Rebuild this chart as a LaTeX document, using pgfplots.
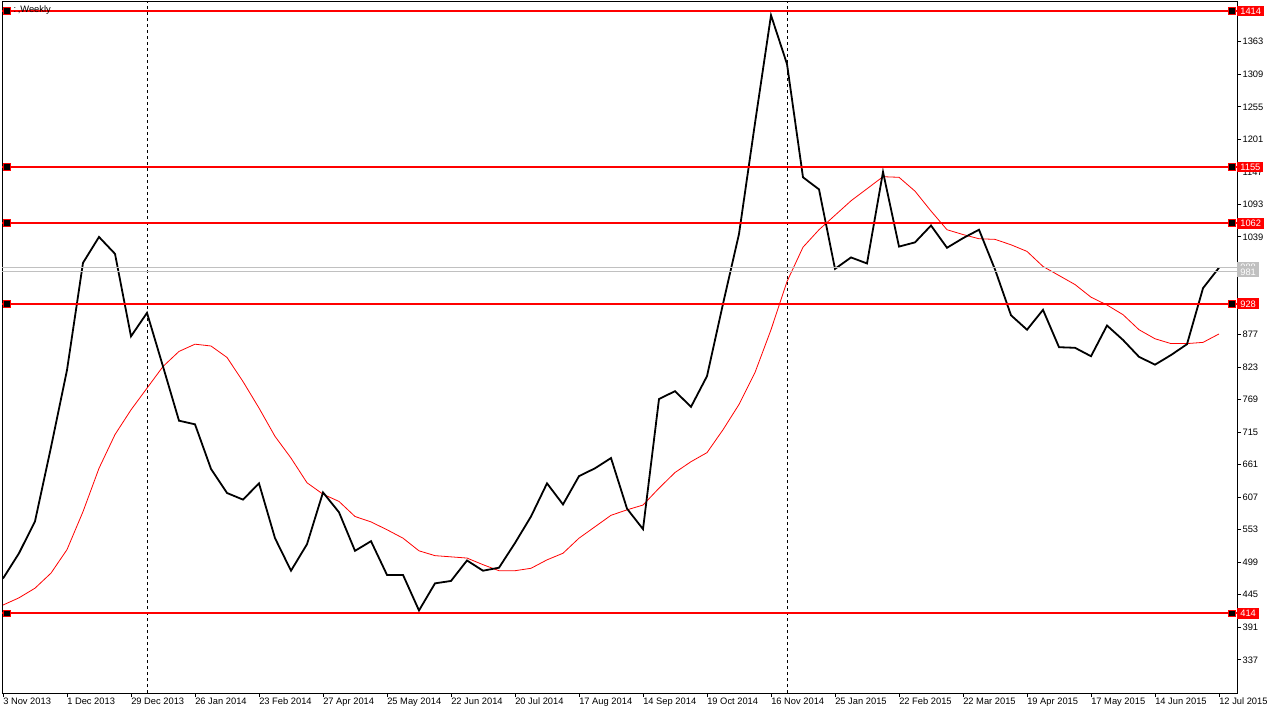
\documentclass[border=0pt]{standalone}
\usepackage{fontspec}
\setmainfont{Liberation Sans}
\usepackage{pgfplots}
\pgfplotsset{compat=1.18}
\definecolor{mtgray}{RGB}{192,192,192}

\begin{document}
\begin{tikzpicture}
% 1 px of the reference = 0.75pt
\useasboundingbox (-1.5pt,-15.75pt) rectangle (955.5pt,519.75pt);
\begin{axis}[
  at={(0,0)}, anchor=south west,
  scale only axis, width=926.25pt, height=518.25pt,
  xmin=-0.0625, xmax=77.125, ymin=282, ymax=1429,
  axis line style={black, line width=0.75pt},
  clip=false,
  tick align=outside, major tick length=3pt,
  tick style={black, line width=0.75pt},
  xtick pos=bottom, ytick pos=right, yticklabel pos=right,
  xtick={0,4,...,76},
  xticklabels={3 Nov 2013,1 Dec 2013,29 Dec 2013,26 Jan 2014,23 Feb 2014,27 Apr 2014,25 May 2014,22 Jun 2014,20 Jul 2014,17 Aug 2014,14 Sep 2014,19 Oct 2014,16 Nov 2014,25 Jan 2015,22 Feb 2015,22 Mar 2015,19 Apr 2015,17 May 2015,14 Jun 2015,12 Jul 2015},
  xticklabel style={anchor=north west, inner sep=0.6pt, xshift=-0.6pt, font=\fontsize{7}{8}\selectfont},
  ytick={337,391,...,1363},
  yticklabel style={anchor=west, inner sep=1pt, font=\fontsize{7}{8}\selectfont},
  /pgf/number format/.cd, 1000 sep={}, assume math mode=true,
]
% moving average
\addplot[red, line width=0.6pt] coordinates {
(0,428)(1,440)(2,456)(3,481)(4,520)(5,583)(6,655)(7,711)(8,752)(9,788)
(10,824)(11,849)(12,861)(13,858)(14,839)(15,799)(16,755)(17,708)(18,672)(19,631)
(20,612)(21,600)(22,575)(23,566)(24,553)(25,539)(26,518)(27,510)(28,508)(29,506)
(30,495)(31,485)(32,485)(33,489)(34,503)(35,514)(36,539)(37,558)(38,577)(39,586)
(40,594)(41,622)(42,648)(43,666)(44,681)(45,719)(46,761)(47,814)(48,885)(49,965)
(50,1022)(51,1051)(52,1075)(53,1099)(54,1119)(55,1139)(56,1138)(57,1115)(58,1082)(59,1051)
(60,1043)(61,1036)(62,1035)(63,1026)(64,1015)(65,990)(66,975)(67,960)(68,939)(69,926)
(70,910)(71,885)(72,870)(73,862)(74,862)(75,864)(76,878)};
% weekly close
\addplot[black, line width=1.35pt] coordinates {
(0,472)(1,514)(2,567)(3,690)(4,818)(5,996)(6,1039)(7,1011)(8,874)(9,913)
(10,824)(11,734)(12,728)(13,654)(14,614)(15,603)(16,630)(17,539)(18,485)(19,529)
(20,615)(21,582)(22,518)(23,534)(24,478)(25,478)(26,419)(27,464)(28,468)(29,502)
(30,485)(31,490)(32,531)(33,575)(34,630)(35,595)(36,642)(37,655)(38,672)(39,588)
(40,554)(41,770)(42,783)(43,757)(44,808)(45,928)(46,1044)(47,1228)(48,1407)(49,1326)
(50,1138)(51,1118)(52,986)(53,1005)(54,995)(55,1147)(56,1023)(57,1030)(58,1058)(59,1021)
(60,1037)(61,1051)(62,985)(63,909)(64,885)(65,918)(66,856)(67,855)(68,841)(69,892)
(70,868)(71,840)(72,827)(73,843)(74,861)(75,954)(76,988)};
% vertical separators
\addplot[black, line width=0.6pt, dash pattern=on 2.25pt off 2.25pt] coordinates {(9,282)(9,1429)};
\addplot[black, line width=0.6pt, dash pattern=on 2.25pt off 2.25pt] coordinates {(49,282)(49,1429)};
% price lines
\addplot[mtgray, line width=0.75pt] coordinates {(-0.0625,988)(77.125,988)};
\addplot[mtgray, line width=0.75pt] coordinates {(-0.0625,981)(77.125,981)};
% horizontal levels
\foreach \lv in {1414,1155,1062,928,414}{
  \edef\tmp{\noexpand\addplot[red, line width=1.5pt] coordinates {(-0.0625,\lv)(77.125,\lv)};}\tmp
}
\addplot[only marks, mark=square*, mark size=2.6pt, mark options={fill=black, draw=red, line width=0.75pt}]
  coordinates {(0.25,1414)(0.25,1155)(0.25,1062)(0.25,928)(0.25,414)
               (76.8,1414)(76.8,1155)(76.8,1062)(76.8,928)(76.8,414)};
% right-hand price labels
\foreach \lv/\col in {988/mtgray,981/mtgray,1414/red,1155/red,1062/red,928/red,414/red}{
  \edef\tmp{\noexpand\node[fill=\col, text=white, anchor=west, inner xsep=2.3pt, inner ysep=1.6pt,
    font=\noexpand\fontsize{7}{8}\noexpand\selectfont] at (axis cs:77.125,\lv) {\lv};}\tmp
}
\node[anchor=west, inner sep=0pt, font=\fontsize{7}{8}\selectfont] at (axis cs:0.55,1416) {\,:\,,Weekly};
\end{axis}
\end{tikzpicture}
\end{document}
